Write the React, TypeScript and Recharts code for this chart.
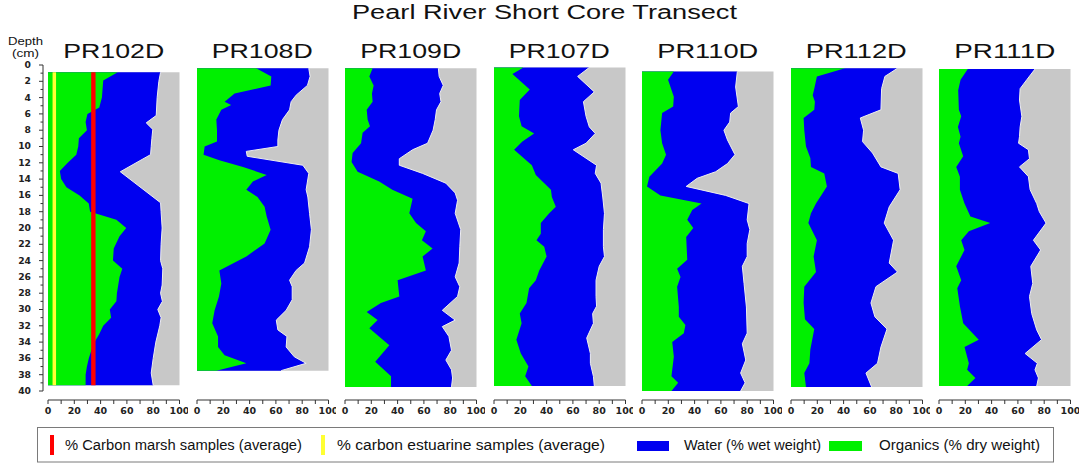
import React from 'react'
import { ComposedChart, Area, XAxis, YAxis, ReferenceArea, ReferenceLine } from 'recharts'

const chartTitle = 'Pearl River Short Core Transect'
const cores = ['PR102D', 'PR108D', 'PR109D', 'PR107D', 'PR110D', 'PR112D', 'PR111D']

// [depth (cm), water % wet weight]
const pr102dWater = [[0.9, 85.6], [2, 84.3], [4, 83], [6.2, 82.3], [7.1, 74.7], [7.9, 79.7], [9, 79], [10, 78.5], [11, 78], [13.1, 55], [16.9, 85.6], [18, 86], [20, 86.8], [22, 86], [24, 85.6], [25, 87.3], [27, 86.8], [28, 85.6], [29, 87], [30, 83.5], [31, 86], [32, 85], [34, 82], [36, 80], [37.8, 78.5], [39.3, 80]]
const pr108dWater = [[0.4, 85], [1.4, 86], [2.5, 84], [3.7, 75.4], [4.5, 71.6], [5.5, 70.4], [6.7, 65], [8, 62.3], [9.2, 61.5], [10, 61.5], [10.6, 37.5], [11.2, 38.2], [12.3, 80.5], [13.3, 85], [15.3, 83], [16.2, 84.3], [18.2, 85.6], [20.2, 87], [22.3, 85.6], [24.3, 81.8], [25.2, 75.4], [26.4, 70.4], [27.2, 72.4], [28.8, 72.4], [30.1, 67.8], [31.3, 60.3], [32.5, 61.5], [33.3, 68.4], [34.6, 67.8], [35.8, 74], [36.6, 83], [37.5, 64]]
const pr109dWater = [[0.4, 71], [1.4, 71.6], [2.5, 74.7], [3.5, 72], [4.5, 73], [5.5, 69.6], [6.7, 68.6], [8, 67], [9.6, 62.8], [10.4, 51.4], [11.5, 41.3], [12.3, 41.3], [13.3, 59], [14.5, 76.7], [15.7, 83.8], [16.6, 85.6], [18.2, 83.8], [20.2, 88], [22.3, 87.3], [24.3, 86.8], [26, 83.8], [27.2, 87.3], [28.4, 85.6], [30.1, 74], [31.3, 83.8], [32.1, 74], [33.3, 79], [35, 81], [36.2, 76.7], [37.4, 81], [38.4, 81.8], [39.5, 81]]
const pr107dWater = [[0.3, 72.5], [1.4, 63.6], [3.3, 76.3], [4.5, 68], [6.3, 70], [7.6, 72.5], [8.4, 77], [9.6, 70], [10.4, 60.3], [12.3, 78], [13.3, 77], [14.5, 81.4], [16.2, 82.7], [18.2, 84], [20.2, 83.2], [22.3, 83.2], [23.5, 84], [24.7, 80], [26.4, 77.6], [28.4, 77.6], [29.6, 78], [30.5, 75], [31.7, 75.6], [33.5, 70.5], [35.4, 73.3], [36.6, 73.3], [38.2, 75.6], [39.4, 76.3]]
const pr110dWater = [[0.8, 72.5], [2.7, 71.2], [5.1, 73.3], [5.9, 67.4], [7, 66.7], [8, 62.3], [9.2, 65], [11, 70.7], [12.1, 65], [13.1, 56], [13.9, 42], [14.9, 33.6], [16, 63.6], [17, 81.4], [19, 80], [20.2, 82], [21.9, 80], [23.5, 80], [24.7, 76.3], [26.8, 77.6], [29.7, 79.4], [32.9, 80], [34.2, 76.3], [36.2, 78.9], [37.8, 75], [39, 78.4], [40, 75]]
const pr112dWater = [[0.4, 81], [1.4, 71.4], [2.9, 68.9], [5.5, 68.4], [6.5, 52.7], [8, 55.2], [9.4, 54.4], [10.8, 62], [12.5, 68.4], [13.3, 81.5], [15.3, 83], [17.4, 74.7], [19.4, 70.9], [21.5, 78], [24.3, 74.7], [25.4, 81], [27.2, 64.6], [29.2, 60.8], [30.9, 63.8], [32.4, 73], [34.6, 68.4], [36.6, 65.8], [37.8, 57], [39.5, 61.3]]
const pr111dWater = [[0.5, 73], [1.8, 66.8], [2.9, 61.7], [4.3, 61.2], [6.3, 63], [7.6, 61.7], [8.8, 61.2], [9.6, 60.5], [10.4, 68], [11.5, 68.8], [12.5, 61.2], [13.7, 68], [15.3, 69.3], [17, 74.3], [18, 76.3], [19.4, 81.4], [21.5, 71.8], [22.7, 77.3], [24.7, 69.8], [26.8, 71.3], [28.4, 68.8], [30.5, 70.5], [32.5, 74.3], [33.7, 78], [35.4, 65.5], [36.6, 74.8], [37.4, 73], [38.4, 75.6], [39.4, 74.3]]

// [depth (cm), organics % dry weight]
const pr102dOrganics = [[0.9, 53], [1.9, 42], [4, 41], [5.2, 39], [6, 30], [7, 28.6], [8, 29.6], [9, 23.5], [10, 23], [11, 21.5], [12, 15], [13, 9], [14, 10], [15, 14], [16, 24], [17, 31], [18, 32], [19, 52], [20, 59.5], [21, 54.4], [22.5, 50], [24, 49.4], [25, 56.5], [26, 54.4], [28, 52.4], [29, 52], [30, 47], [31, 48], [32, 42], [33, 39], [34, 35.4], [35, 33], [36, 31], [37, 29.6], [38, 28.6], [39.3, 28.6]]
const pr108dOrganics = [[0.4, 45], [1.4, 56.5], [2.5, 56], [3.5, 28.6], [4.5, 21], [4.9, 26], [5.5, 18.5], [6.7, 14.7], [8, 15.2], [9.4, 15.2], [10, 5.8], [11, 5], [11.7, 17], [12.5, 35], [13.5, 53], [14.3, 42.5], [15.3, 37.5], [16.2, 46], [17.4, 51.4], [18.6, 53], [20.2, 56], [21.9, 51.4], [23.5, 37.5], [25.2, 17], [26.8, 18.5], [28.4, 16.7], [30.1, 13.4], [31.7, 11.6], [33.3, 16], [34.6, 16], [35.6, 21], [36.6, 37.5], [37.5, 14.7]]
const pr109dOrganics = [[0.4, 21], [1.4, 18.5], [2.5, 21.8], [3.5, 20.5], [4.5, 21], [5.5, 16.5], [6.7, 17.2], [7.5, 19], [8.3, 13.4], [9.6, 12.2], [10.8, 5.8], [11.9, 5], [13.1, 9.6], [14.3, 26], [15.3, 36], [16.4, 51.4], [18.2, 48.9], [19.4, 54], [20.4, 61.5], [21.5, 58.5], [22.5, 66.6], [23.5, 59], [25.2, 61.5], [26.4, 40], [28.4, 41.3], [29.2, 27.3], [30.3, 16.5], [31.3, 24.8], [32.3, 18.5], [34.4, 33.7], [36.4, 23], [38.2, 35], [39.5, 35]]
const pr107dOrganics = [[0.3, 22.4], [1.1, 14], [3, 27.2], [4.3, 19.6], [6.3, 19], [7.5, 21], [8.4, 30.5], [9.4, 21.6], [10.4, 15.3], [12.3, 28.8], [13.5, 31.8], [15.3, 43.3], [16.2, 44], [17.4, 47], [18.2, 42], [19.4, 35.6], [20.7, 35.6], [21.5, 32.3], [22.3, 38.2], [23.5, 40], [25.2, 34.4], [26.4, 31.8], [27.4, 26.7], [29.2, 24.7], [30.5, 19.6], [31.7, 21], [33.7, 17], [35.4, 20.4], [37, 26.2], [38.2, 23.7], [39.4, 28.8]]
const pr110dOrganics = [[0.8, 24.2], [1.8, 19.8], [3.9, 24.2], [5.1, 23.7], [5.9, 15.3], [8, 14], [9.6, 15.3], [11, 18.3], [12.1, 15.3], [13.7, 5.6], [14.9, 3.8], [16, 14], [17, 45.3], [17.8, 38.2], [19, 34.4], [20, 39], [21.1, 33.6], [23.9, 34.4], [25, 26.7], [26, 29.3], [27.2, 26.7], [29.7, 28], [30.9, 28], [31.9, 33], [32.9, 31.8], [34, 23], [35.8, 24.2], [38.2, 22.4], [39, 27.5], [40, 22.4]]
const pr112dOrganics = [[0.4, 41], [1.4, 19.7], [2.9, 17.7], [3.7, 16.5], [4.5, 18.2], [5.5, 17.7], [6.5, 9.6], [8, 10.1], [10, 11.4], [11.4, 14.7], [12.5, 15.2], [13.3, 25.3], [14.9, 27.3], [17, 19], [18.2, 15.2], [19.4, 13.2], [21.5, 19.7], [23.5, 17.2], [25.4, 19], [27.2, 10.1], [29.2, 9.6], [31.2, 10.6], [32.4, 17.7], [34.9, 14.7], [36.6, 14], [37.8, 10.1], [39.5, 11.4]]
const pr111dOrganics = [[0.5, 21.9], [1.8, 16.4], [3.1, 14.6], [5.5, 15.1], [6.3, 16.9], [7.6, 14.4], [8.8, 16.4], [9.6, 15.1], [11.2, 18.4], [12.5, 13.1], [13.7, 15.9], [15.3, 15.9], [17, 19.4], [18.6, 23.9], [19.4, 39], [20.4, 22.7], [21.5, 16.9], [22.7, 19.4], [24.7, 13.1], [26.4, 16.9], [27.4, 13.9], [29.6, 15.9], [31.7, 18.4], [33.7, 30.2], [34.6, 19.4], [36.6, 22.7], [37.4, 21.4], [38.4, 27.7], [39.4, 21.4]]

const waterByCore = [pr102dWater, pr108dWater, pr109dWater, pr107dWater, pr110dWater, pr112dWater, pr111dWater]
const organicsByCore = [pr102dOrganics, pr108dOrganics, pr109dOrganics, pr107dOrganics, pr110dOrganics, pr112dOrganics, pr111dOrganics]

// average % carbon, drawn on PR102D only
const marshCarbonAvg = 34.5
const estuarineCarbonAvg = 4.8

const percentTicks = [0, 10, 20, 30, 40, 50, 60, 70, 80, 90, 100]
const depthTicks = Array.from({ length: 41 }, (_, i) => i)

const legendLabels = [
  '% Carbon marsh samples (average)',
  '% carbon estuarine samples (average)',
  'Water (% wet weight)',
  'Organics (% dry weight)',
]

const GREEN = '#00f000'
const BLUE = '#0000f0'
const GRAY = '#c8c8c8'
const RED = '#ff0000'
const YELLOW = '#ffff33'
const AXIS = '#333'
const FONT = '"Liberation Sans", Arial, sans-serif'
const TICK_FONT = '"DejaVu Sans", Verdana, sans-serif'

// layout
const PANEL_X0 = 48
const PANEL_STEP = 148.5
const PANEL_W = 131.5
const SIDE = 8
const CHART_TOP = 60

type Row = { depth: number; water?: number; organics?: number }

function buildRows(water: number[][], organics: number[][]): Row[] {
  const map = new Map<number, Row>()
  water.forEach(([d, v]) => map.set(d, { ...(map.get(d) ?? { depth: d }), water: v }))
  organics.forEach(([d, v]) => map.set(d, { ...(map.get(d) ?? { depth: d }), organics: v }))
  return [...map.values()].sort((a, b) => a.depth - b.depth)
}

const PercentTick = (props: any) => {
  const { x, y, payload } = props
  if (payload.value % 20 !== 0) return <g />
  const s = String(payload.value)
  return (
    <text x={x} y={y + 8} textAnchor="middle" fontFamily={TICK_FONT} fontWeight="bold" fontSize={8}
      fill="#222" textLength={s.length * 6.6} lengthAdjust="spacingAndGlyphs">{s}</text>
  )
}

const DepthTick = (props: any) => {
  const { x, y, payload } = props
  const major = payload.value % 2 === 0
  const s = String(payload.value)
  return (
    <g>
      <line x1={x - (major ? 4 : 2.5)} x2={x} y1={y} y2={y} stroke={AXIS} />
      {major && (
        <text x={x - 12} y={y + 2.9} textAnchor="end" fontFamily={TICK_FONT} fontWeight="bold" fontSize={8}
          fill="#222" textLength={s.length * 6.4} lengthAdjust="spacingAndGlyphs">{s}</text>
      )}
    </g>
  )
}

function CorePanel({ index }: { index: number }) {
  const rows = buildRows(waterByCore[index], organicsByCore[index])
  const top = rows[0].depth
  const bottom = rows[rows.length - 1].depth
  const left = PANEL_X0 + index * PANEL_STEP - SIDE
  return (
    <div style={{ position: 'absolute', left, top: CHART_TOP }}>
      <ComposedChart layout="vertical" width={PANEL_W + 2 * SIDE} height={360} data={rows}
        margin={{ top: 5, right: SIDE, bottom: 0, left: SIDE }}>
        <XAxis type="number" domain={[0, 100]} ticks={percentTicks} interval={0} tickSize={4} height={20}
          axisLine={{ stroke: AXIS }} tickLine={{ stroke: AXIS }} tick={PercentTick} />
        <YAxis type="number" dataKey="depth" domain={[0, 40]} hide allowDataOverflow padding={{ top: 0, bottom: 9 }} />
        <ReferenceArea x1={0} x2={100} y1={top} y2={bottom} fill={GRAY} fillOpacity={1} stroke="none" zIndex={50} />
        <Area dataKey="water" type="linear" fill={BLUE} fillOpacity={1} stroke="#eeeeee" strokeWidth={1}
          connectNulls dot={false} activeDot={false} isAnimationActive={false} />
        <Area dataKey="organics" type="linear" fill={GREEN} fillOpacity={1} stroke="none"
          connectNulls dot={false} activeDot={false} isAnimationActive={false} />
        {index === 0 && (
          <ReferenceLine segment={[{ x: estuarineCarbonAvg, y: top }, { x: estuarineCarbonAvg, y: bottom }]}
            stroke={YELLOW} strokeWidth={3.5} zIndex={450} />
        )}
        {index === 0 && (
          <ReferenceLine segment={[{ x: marshCarbonAvg, y: top }, { x: marshCarbonAvg, y: bottom }]}
            stroke={RED} strokeWidth={4.4} zIndex={450} />
        )}
      </ComposedChart>
    </div>
  )
}

function DepthAxis() {
  const rows = buildRows(waterByCore[0], organicsByCore[0])
  return (
    <div style={{ position: 'absolute', left: 0, top: CHART_TOP }}>
      <ComposedChart layout="vertical" width={52} height={340} data={rows}
        margin={{ top: 5, right: 4, bottom: 9, left: 0 }}>
        <XAxis type="number" domain={[0, 100]} hide />
        <YAxis type="number" dataKey="depth" domain={[0, 40]} ticks={depthTicks} interval={0} width={43}
          tickSize={0} tickMargin={0} tickLine={false} axisLine={{ stroke: AXIS }} tick={DepthTick} allowDataOverflow />
      </ComposedChart>
    </div>
  )
}

export default function App() {
  const swatches = [
    { x: 50, y: 435, w: 4, h: 20, color: RED, tx: 65, len: 237 },
    { x: 321, y: 435, w: 4, h: 20, color: YELLOW, tx: 337, len: 268 },
    { x: 637, y: 441, w: 32, h: 10, color: BLUE, tx: 684, len: 137 },
    { x: 829, y: 441, w: 33, h: 10, color: GREEN, tx: 879, len: 161 },
  ]
  return (
    <div style={{ position: 'absolute', left: 0, top: 0, width: 1084, height: 469, background: '#fff' }}>
      <DepthAxis />
      {cores.map((_, i) => <CorePanel key={i} index={i} />)}
      <svg width={1084} height={469} style={{ position: 'absolute', left: 0, top: 0, pointerEvents: 'none' }}>
        <text x={544.5} y={19} textAnchor="middle" fontFamily={FONT} fontSize={19.5} fill="#111"
          textLength={385} lengthAdjust="spacingAndGlyphs">{chartTitle}</text>
        <text x={25.5} y={45} textAnchor="middle" fontFamily={FONT} fontSize={10} fill="#111"
          textLength={35} lengthAdjust="spacingAndGlyphs">Depth</text>
        <text x={25.5} y={56.5} textAnchor="middle" fontFamily={FONT} fontSize={10} fill="#111"
          textLength={27} lengthAdjust="spacingAndGlyphs">(cm)</text>
        {cores.map((name, i) => (
          <text key={name} x={PANEL_X0 + i * PANEL_STEP + PANEL_W / 2} y={58} textAnchor="middle" fontFamily={FONT}
            fontSize={21} fill="#111" textLength={101} lengthAdjust="spacingAndGlyphs">{name}</text>
        ))}
        <rect x={37.5} y={427.5} width={1016} height={34.5} fill="#fff" stroke="#7a7a7a" />
        {swatches.map((s, i) => (
          <g key={i}>
            <rect x={s.x} y={s.y} width={s.w} height={s.h} fill={s.color} />
            <text x={s.tx} y={449.5} fontFamily={FONT} fontSize={14} fill="#111"
              textLength={s.len} lengthAdjust="spacingAndGlyphs">{legendLabels[i]}</text>
          </g>
        ))}
      </svg>
    </div>
  )
}
